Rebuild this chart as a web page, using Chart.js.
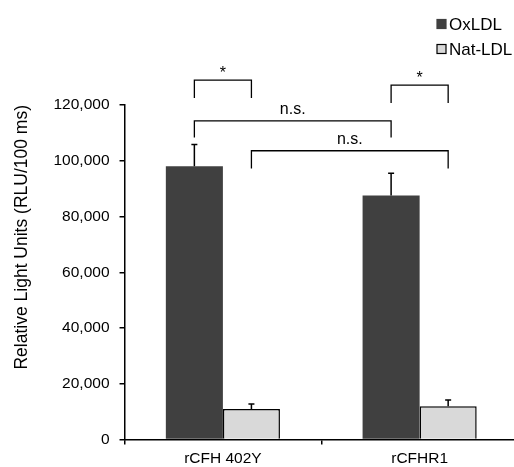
<!DOCTYPE html>
<html>
<head>
<meta charset="utf-8">
<script src="https://cdn.jsdelivr.net/npm/chart.js@4"></script>
<style>
  html, body { margin: 0; padding: 0; background: #fff; overflow: hidden; }
  #wrap { width: 518px; height: 473px; }
</style>
</head>
<body>
<div id="wrap"><canvas id="myChart"></canvas></div>
<script>
// values
const categories = ["rCFH 402Y", "rCFHR1"];
const seriesNames = ["OxLDL", "Nat-LDL"];
const oxValues = [98000, 87500];
const oxErrors = [7800, 8000];
const natValues = [11000, 12000];
const natErrors = [1800, 2200];
const yTicks = [0, 20000, 40000, 60000, 80000, 100000, 120000];

// significance brackets: [dataset, category] ends, bar top and leg bottom in data units
const brackets = [
  { from: [0, 0], to: [1, 0], top: 128900, leg: 122500, label: "*" },
  { from: [0, 0], to: [0, 1], top: 114300, leg: 108300, label: "n.s." },
  { from: [1, 0], to: [1, 1], top: 103600, leg: 97200, label: "n.s." },
  { from: [0, 1], to: [1, 1], top: 127100, leg: 120700, label: "*" },
];

const FONT = "'Liberation Sans', Arial, sans-serif";
var barColors = ["#404040", "#d9d9d9"];

const extras = {
  id: "extras",
  afterDatasetsDraw(chart) {
    const ctx = chart.ctx;
    const y = chart.scales.y;
    const errs = [oxErrors, natErrors];
    ctx.save();
    ctx.strokeStyle = "#000";
    ctx.lineWidth = 1.5;
    chart.data.datasets.forEach((ds, i) => {
      chart.getDatasetMeta(i).data.forEach((bar, j) => {
        const top = y.getPixelForValue(ds.data[j] + errs[i][j]);
        ctx.beginPath();
        ctx.moveTo(bar.x, bar.y);
        ctx.lineTo(bar.x, top);
        ctx.moveTo(bar.x - 3, top);
        ctx.lineTo(bar.x + 3, top);
        ctx.stroke();
      });
    });
    ctx.restore();
  },
  afterDraw(chart) {
    const ctx = chart.ctx;
    const y = chart.scales.y;
    ctx.save();
    // brackets
    ctx.strokeStyle = "#000";
    ctx.lineWidth = 1.3;
    ctx.fillStyle = "#000";
    ctx.textAlign = "center";
    ctx.textBaseline = "alphabetic";
    brackets.forEach((b) => {
      const x1 = chart.getDatasetMeta(b.from[0]).data[b.from[1]].x;
      const x2 = chart.getDatasetMeta(b.to[0]).data[b.to[1]].x;
      const yt = y.getPixelForValue(b.top);
      const yl = y.getPixelForValue(b.leg);
      ctx.beginPath();
      ctx.moveTo(x1, yl);
      ctx.lineTo(x1, yt);
      ctx.lineTo(x2, yt);
      ctx.lineTo(x2, yl);
      ctx.stroke();
      ctx.font = "16px " + FONT;
      const gap = b.label === "*" ? 2 : 7;
      ctx.fillText(b.label, (x1 + x2) / 2, yt - gap);
    });
    // legend, stacked at top right
    ctx.font = "17px " + FONT;
    ctx.textAlign = "left";
    ctx.textBaseline = "middle";
    chart.data.datasets.forEach((ds, i) => {
      const cy = 24 + i * 25;
      ctx.fillStyle = ds.backgroundColor;
      ctx.fillRect(437, cy - 4.5, 9, 9);
      ctx.lineWidth = 1.2;
      ctx.strokeStyle = i === 0 ? ds.backgroundColor : "#000";
      ctx.strokeRect(437, cy - 4.5, 9, 9);
      ctx.fillStyle = "#000";
      ctx.fillText(ds.label, 449, cy + 1);
    });
    ctx.restore();
  },
};

new Chart("myChart", {
  type: "bar",
  data: {
    labels: categories,
    datasets: [
      {
        label: seriesNames[0],
        data: oxValues,
        backgroundColor: barColors[0],
        borderColor: barColors[0],
        borderWidth: 0,
      },
      {
        label: seriesNames[1],
        data: natValues,
        backgroundColor: barColors[1],
        borderColor: "#000",
        borderWidth: 1.5,
      },
    ],
  },
  options: {
    responsive: true,
    maintainAspectRatio: false,
    animation: false,
    categoryPercentage: 0.58,
    barPercentage: 1,
    layout: { padding: { top: 105, left: 5, right: 0, bottom: 0 } },
    plugins: {
      legend: { display: false },
      tooltip: { enabled: false },
    },
    scales: {
      x: {
        grid: {
          offset: true,
          drawOnChartArea: false,
          color: "#000",
          tickLength: 5,
          lineWidth: 1.5,
        },
        border: { color: "#000", width: 1.5 },
        ticks: {
          color: "#000",
          font: { family: FONT, size: 15.5, lineHeight: 0.8 },
          padding: 8,
        },
      },
      y: {
        min: 0,
        max: 120000,
        afterBuildTicks: (scale) => {
          scale.ticks = yTicks.map((v) => ({ value: v }));
        },
        grid: {
          drawOnChartArea: false,
          color: "#000",
          tickLength: 5,
          lineWidth: 1.5,
        },
        border: { color: "#000", width: 1.5 },
        ticks: {
          color: "#000",
          font: { family: FONT, size: 15.5 },
          padding: 10,
          callback: (v) => Number(v).toLocaleString("en-US"),
        },
        title: {
          display: true,
          align: "end",
          text: "Relative Light Units (RLU/100 ms)",
          color: "#000",
          font: { family: FONT, size: 17.5 },
          padding: { top: 6.5, bottom: 11 },
        },
      },
    },
  },
  plugins: [extras],
});
</script>
</body>
</html>
